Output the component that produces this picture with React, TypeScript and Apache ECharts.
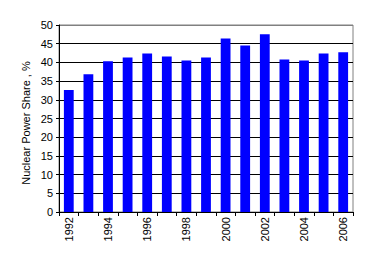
import React, { useEffect, useRef } from "react";
import * as echarts from "echarts";

const years = ["1992","1993","1994","1995","1996","1997","1998","1999","2000","2001","2002","2003","2004","2005","2006"];
const shares = [32.6, 36.8, 40.3, 41.3, 42.4, 41.6, 40.5, 41.3, 46.4, 44.5, 47.5, 40.8, 40.5, 42.4, 42.7];
const yTitle = "Nuclear Power Share , %";

export default function App() {
  const ref = useRef<HTMLDivElement>(null);
  useEffect(() => {
    if (!ref.current) return;
    const chart = echarts.init(ref.current, null, { renderer: "svg" });
    const font = "'Liberation Sans', Arial, sans-serif";
    const splitColors = ["#000", "#000", "#000", "#000", "#000", "#000", "#000", "#000", "#000", "#000", "#808080"];
    chart.setOption({
      animation: false,
      backgroundColor: "#fff",
      grid: {
        left: 59, right: 16, top: 25, bottom: 50,
        show: true, borderColor: "#808080", borderWidth: 1, backgroundColor: "transparent",
      },
      graphic: [
        {
          type: "text",
          x: 26,
          y: 123,
          rotation: Math.PI / 2,
          style: {
            text: yTitle,
            fill: "#000",
            fontSize: 11,
            fontFamily: font,
            textAlign: "center",
            textVerticalAlign: "middle",
          },
        },
      ],
      xAxis: {
        type: "category",
        data: years,
        axisLine: { lineStyle: { color: "#000", width: 1 } },
        axisTick: { show: true, interval: 0, length: 4, alignWithLabel: false, lineStyle: { color: "#000" } },
        axisLabel: { interval: 1, rotate: 90, color: "#000", fontSize: 11, fontFamily: font, margin: 5 },
        splitLine: { show: false },
      },
      yAxis: {
        type: "value",
        min: 0, max: 50, interval: 5,
        axisLine: { show: true, lineStyle: { color: "#000", width: 1 } },
        axisTick: { show: true, length: 3, lineStyle: { color: "#000" } },
        axisLabel: { color: "#000", fontSize: 11, fontFamily: font, margin: 6 },
        splitLine: { show: true, lineStyle: { color: splitColors, width: 1 } },
      },
      series: [
        {
          type: "bar",
          data: shares,
          barWidth: "50%",
          itemStyle: { color: "#0000ff" },
        },
      ],
    });
    return () => chart.dispose();
  }, []);
  return <div ref={ref} style={{ position: "fixed", left: 0, top: 0, width: 369, height: 262 }} />;
}
